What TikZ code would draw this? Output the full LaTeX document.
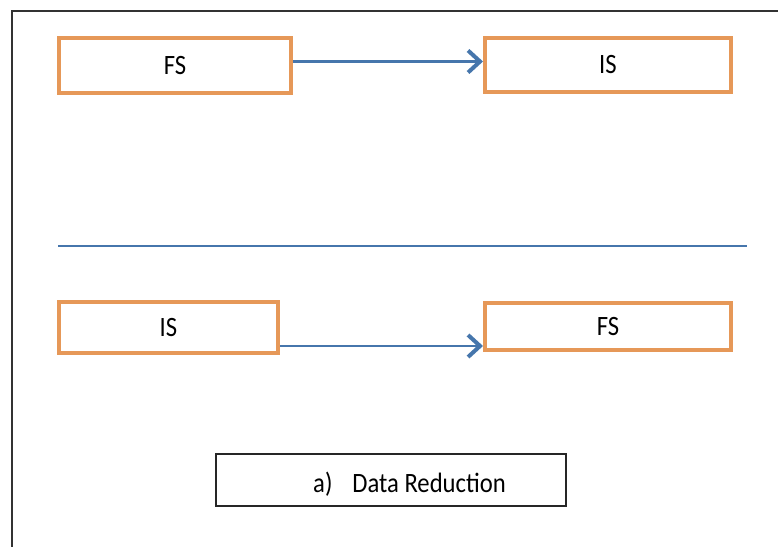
\documentclass[tikz,border=0pt]{standalone}
\usepackage{fontspec}
\setmainfont{Carlito}[FakeStretch=0.88]
\usetikzlibrary{arrows.meta}
\definecolor{boxorange}{RGB}{230,152,88}
\definecolor{linkblue}{RGB}{70,118,172}
\definecolor{framegray}{RGB}{50,50,50}
\tikzset{
  x=1pt, y=-1pt,
  stagebox/.style={draw=boxorange, line width=4pt, fill=white, inner sep=0pt,
    font=\fontsize{28}{30}\selectfont},
  link/.style={draw=linkblue, line width=2.6pt,
    -{Straight Barb[length=12pt,width=22pt,line width=4pt]}},
  captionbox/.style={draw=black!85, line width=1.8pt, inner sep=0pt},
  captiontext/.style={font=\fontsize{28}{30}\selectfont, inner sep=0pt}
}
\begin{document}
\begin{tikzpicture}
  \useasboundingbox (0,0) rectangle (778,546);
  % outer frame (left and top edges)
  \coordinate (fbl) at (12,560);
  \coordinate (ftl) at (12,11);
  \coordinate (ftr) at (790,11);
  \draw[framegray, line width=1.8pt] (fbl) -- (ftl) -- (ftr);

  % first row: FS -> IS
  \node[stagebox, minimum width=232pt, minimum height=55pt] (fs1) at (175,65.5) {FS};
  \node[stagebox, minimum width=246pt, minimum height=54pt] (is1) at (608,65) {IS};
  \coordinate (a1s) at ([yshift=4pt]fs1.east);
  \coordinate (a1e) at (a1s -| is1.west);
  \draw[link] (a1s) -- (a1e);

  % divider
  \coordinate (dl) at (58,246);
  \coordinate (dr) at (747,246);
  \draw[linkblue, line width=1.5pt] (dl) -- (dr);

  % second row: IS -> FS
  \node[stagebox, minimum width=219pt, minimum height=51pt] (is2) at (168.5,327.5) {IS};
  \node[stagebox, minimum width=246pt, minimum height=47pt] (fs2) at (608,326.5) {FS};
  \coordinate (a2s) at ([yshift=-18.5pt]is2.east);
  \coordinate (a2e) at (a2s -| fs2.west);
  \draw[link] (a2s) -- (a2e);

  % caption
  \node[captionbox, minimum width=350pt, minimum height=52pt] (cap) at (391,480) {};
  \node[captiontext, anchor=base west] (capt) at (313,492) {a)\hspace{20pt}Data Reduction};
\end{tikzpicture}
\end{document}
